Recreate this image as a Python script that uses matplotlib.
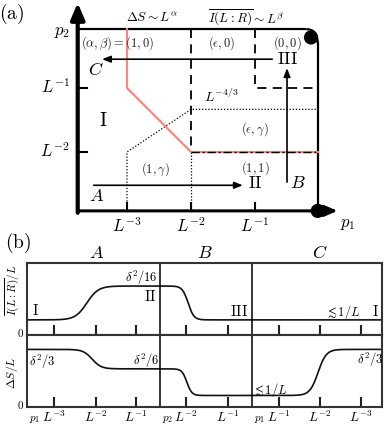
import numpy as np
import matplotlib
matplotlib.use('Agg')
import matplotlib.pyplot as plt
from matplotlib.path import Path
from matplotlib.patches import PathPatch, Circle

plt.rcParams['mathtext.fontset'] = 'cm'
plt.rcParams['font.family'] = ['Liberation Serif', 'DejaVu Serif']

# ---------------- data: panel (a) (log10 p1, log10 p2) ----------------
xtick_pos_a = [-3, -2, -1]
xtick_lab_a = ['$L^{-3}$', '$L^{-2}$', '$L^{-1}$']
ytick_pos_a = [-1, -2]
ytick_lab_a = ['$L^{-1}$', '$L^{-2}$']
box_left, box_right, box_top, box_bottom = -3.77, -0.02, -0.08, -2.92
red_x = [-3, -3, -2, -0.02]
red_y = [-0.08, -1, -2, -2]
dot_x = [-3, -3, -2, -0.02]
dot_y = [-2.92, -2, -4 / 3, -4 / 3]
dash1_x = [-2, -2]
dash1_y = [-0.08, -2]
dash2_x = [-1, -1, -0.02]
dash2_y = [-0.08, -1, -1]
region_labels = ['$(\\alpha,\\beta)=(1,0)$', '$(\\epsilon,0)$', '$(0,0)$',
                 '$(\\epsilon,\\gamma)$', '$(1,\\gamma)$', '$(1,1)$']
region_x = [-3.14, -1.52, -0.5, -1.0, -2.55, -1.0]
region_y = [-0.3, -0.3, -0.3, -1.64, -2.27, -2.25]

# ---------------- data: panel (b) ----------------
seg_edges = [0, 3.25, 5.5, 8.66]
seg_names = ['$A$', '$B$', '$C$']
seg_name_x = [1.7, 4.34, 7.15]
seg_start_labels = ['$p_1$', '$p_2$', '$p_1$']
tick_pos_b = [0.66, 1.68, 2.66, 3.88, 4.9, 6.15, 7.15, 8.15]
tick_lab_b = ['$L^{-3}$', '$L^{-2}$', '$L^{-1}$', '$L^{-2}$', '$L^{-1}$',
              '$L^{-1}$', '$L^{-2}$', '$L^{-3}$']
I_levels = [0.21, 0.68]          # low, high
I_trans_c = [1.46, 3.93]         # rise (A), fall (B)
I_trans_w = [0.28, 0.14]
S_levels = [0.80, 0.53, 0.16]    # high, mid, low
S_trans_c = [1.59, 3.9, 7.1]
S_trans_w = [0.22, 0.12, 0.2]

fig = plt.figure(figsize=(3.9, 4.28), dpi=100)
W, H = 390, 428

# ================= panel (a) =================
axa = fig.add_axes([0, 1 - 240 / H, 1, 240 / H])
axa.set_xlim(-4.984, 1.109)
axa.set_ylim(-3.375, 0.375)
axa.axis('off')

# box: top, rounded corner, right
axa.plot([box_left, -0.2], [box_top, box_top], color='k', lw=1.6, solid_capstyle='butt')
corner = Path([(-0.2, box_top), (box_right, box_top), (box_right, -0.3)],
              [Path.MOVETO, Path.CURVE3, Path.CURVE3])
axa.add_patch(PathPatch(corner, fc='none', ec='k', lw=1.6))
axa.plot([box_right, box_right], [-0.3, box_bottom], color='k', lw=1.6)

# red boundary
axa.plot(red_x, red_y, color='#f28b82', lw=1.6, zorder=3)
axa.plot(red_x[2:], red_y[2:], color='k', lw=1.0, ls=(0, (6, 2, 1.5, 2)), zorder=4)
# dashed
axa.plot(dash1_x, dash1_y, color='k', lw=1.3, ls=(0, (5, 3.5)))
axa.plot(dash2_x, dash2_y, color='k', lw=1.3, ls=(0, (5, 3.5)))
# dotted
axa.plot(dot_x, dot_y, color='k', lw=0.9, ls=(0, (1, 1.5)))
axa.plot([-2, -2], [-2, box_bottom], color='k', lw=0.9, ls=(0, (1, 1.5)))

# axes
axa.annotate('', xy=(box_left, 0.33), xytext=(box_left, box_bottom - 0.03),
             arrowprops=dict(arrowstyle='-|>,head_length=0.7,head_width=0.3',
                             lw=3.0, color='k', shrinkA=0, shrinkB=0,
                             mutation_scale=14), zorder=5)
axa.annotate('', xy=(0.29, box_bottom), xytext=(box_left, box_bottom),
             arrowprops=dict(arrowstyle='-|>,head_length=0.7,head_width=0.3',
                             lw=2.2, color='k', shrinkA=0, shrinkB=0,
                             mutation_scale=11), zorder=5)
for xp, lab in zip(xtick_pos_a, xtick_lab_a):
    axa.plot([xp, xp], [box_bottom, box_bottom + 0.13], color='k', lw=1.5)
    axa.text(xp, box_bottom - 0.1, lab, ha='center', va='top', fontsize=12)
for yp, lab in zip(ytick_pos_a, ytick_lab_a):
    axa.plot([box_left, box_left + 0.14], [yp, yp], color='k', lw=1.5)
    axa.text(box_left - 0.12, yp, lab, ha='right', va='center', fontsize=12)
axa.text(0.33, -3.12, '$p_1$', ha='left', va='center', fontsize=12)
axa.text(-4.02, -0.12, '$p_2$', ha='center', va='center', fontsize=12)

# dots
axa.add_patch(Circle((-0.125, -0.21), 0.1, color='k', zorder=6))
axa.add_patch(Circle((box_right, box_bottom), 0.1, color='k', zorder=6))

# arrows A, B, C
arr = dict(arrowstyle='-|>,head_length=0.5,head_width=0.2', lw=1.2, color='k',
           shrinkA=0, shrinkB=0, mutation_scale=10)
axa.annotate('', xy=(-3.39, -0.55), xytext=(-0.73, -0.55), arrowprops=arr)
axa.annotate('', xy=(-1.19, -2.52), xytext=(-3.52, -2.52), arrowprops=arr)
axa.annotate('', xy=(-0.5, -0.69), xytext=(-0.5, -2.47), arrowprops=arr)
axa.text(-3.48, -0.73, '$C$', ha='center', va='center', fontsize=13)
axa.text(-3.47, -2.69, '$A$', ha='center', va='center', fontsize=13)
axa.text(-0.33, -2.5, '$B$', ha='center', va='center', fontsize=13)
axa.text(-0.5, -0.56, '$\\mathrm{III}$', ha='center', va='center', fontsize=13)
axa.text(-1.0, -2.5, '$\\mathrm{II}$', ha='center', va='center', fontsize=13)
axa.text(-3.37, -1.52, '$\\mathrm{I}$', ha='center', va='center', fontsize=14)
axa.text(-1.52, -1.14, '$L^{-4/3}$', ha='center', va='center', fontsize=10)
for lab, xx, yy in zip(region_labels, region_x, region_y):
    axa.text(xx, yy, lab, ha='center', va='center', fontsize=9, color='#222')
axa.text(-2.61, 0.09, '$\\Delta S\\sim L^{\\alpha}$', ha='center', va='center', fontsize=9.5)
axa.text(-1.14, 0.09, '$\\overline{I(L:R)}\\sim L^{\\beta}$', ha='center', va='center', fontsize=9.5)
fig.text(12 / W, 1 - 14 / H, '$\\mathrm{(a)}$', ha='center', va='center', fontsize=14)

# ================= panel (b) =================
fig.text(18 / W, 1 - 243 / H, '$\\mathrm{(b)}$', ha='center', va='center', fontsize=14)
s = np.linspace(seg_edges[0], seg_edges[-1], 800)


def step(x, c, w):
    return 0.5 * (1 + np.tanh((x - c) / w))


I_curve = I_levels[0] + (I_levels[1] - I_levels[0]) * (
    step(s, I_trans_c[0], I_trans_w[0]) - step(s, I_trans_c[1], I_trans_w[1]))
S_curve = (S_levels[0]
           - (S_levels[0] - S_levels[1]) * step(s, S_trans_c[0], S_trans_w[0])
           - (S_levels[1] - S_levels[2]) * step(s, S_trans_c[1], S_trans_w[1])
           + (S_levels[0] - S_levels[2]) * step(s, S_trans_c[2], S_trans_w[2]))

axt = fig.add_axes([27 / W, 1 - 335 / H, 355 / W, 72 / H])
axb = fig.add_axes([27 / W, 1 - 407 / H, 355 / W, 72 / H])
for ax, curve in ((axt, I_curve), (axb, S_curve)):
    ax.set_xlim(seg_edges[0], seg_edges[-1])
    ax.set_ylim(0, 1)
    ax.plot(s, curve, color='#111', lw=1.2)
    for e in seg_edges[1:-1]:
        ax.axvline(e, color='k', lw=1.1)
    for sp in ax.spines.values():
        sp.set_color('#333')
        sp.set_linewidth(1.5)
    ax.set_xticks(tick_pos_b)
    ax.tick_params(axis='x', direction='in', length=7, width=1.5, color='#222')
    ax.set_yticks([0.04])
    ax.set_yticklabels(['$0$'], fontsize=8)
    ax.tick_params(axis='y', length=0, pad=2)
axt.set_xticklabels([])
axb.set_xticklabels(tick_lab_b, fontsize=9.5)
axb.tick_params(axis='x', pad=2)
for e, lab in zip(seg_edges[:-1], seg_start_labels):
    axb.text(e + 0.04, -0.1, lab, ha='left', va='top', fontsize=8)
for xx, lab in zip(seg_name_x, seg_names):
    axt.text(xx, 1.13, lab, ha='center', va='center', fontsize=13)

# labels top panel
axt.text(0.2, 0.23, '$\\mathrm{I}$', ha='center', va='bottom', fontsize=11)
axt.text(2.78, 0.79, '$\\delta^2/16$', ha='center', va='center', fontsize=9)
axt.text(3.0, 0.54, '$\\mathrm{II}$', ha='center', va='center', fontsize=11)
axt.text(5.17, 0.33, '$\\mathrm{III}$', ha='center', va='center', fontsize=11)
axt.text(7.7, 0.32, '$\\lesssim 1/L$', ha='center', va='center', fontsize=9)
axt.text(8.5, 0.33, '$\\mathrm{I}$', ha='center', va='center', fontsize=11)
# labels bottom panel
axb.text(0.37, 0.63, '$\\delta^2/3$', ha='center', va='center', fontsize=9)
axb.text(2.9, 0.64, '$\\delta^2/6$', ha='center', va='center', fontsize=9)
axb.text(5.93, 0.24, '$\\lesssim 1/L$', ha='center', va='center', fontsize=9)
axb.text(8.36, 0.65, '$\\delta^2/3$', ha='center', va='center', fontsize=9)

fig.text(12 / W, 1 - 290 / H, '$\\overline{I(L:R)}/L$', rotation=90,
         ha='center', va='center', fontsize=8)
fig.text(12 / W, 1 - 373 / H, '$\\Delta S/L$', rotation=90,
         ha='center', va='center', fontsize=8.5)

fig.savefig('out.png', dpi=100)
